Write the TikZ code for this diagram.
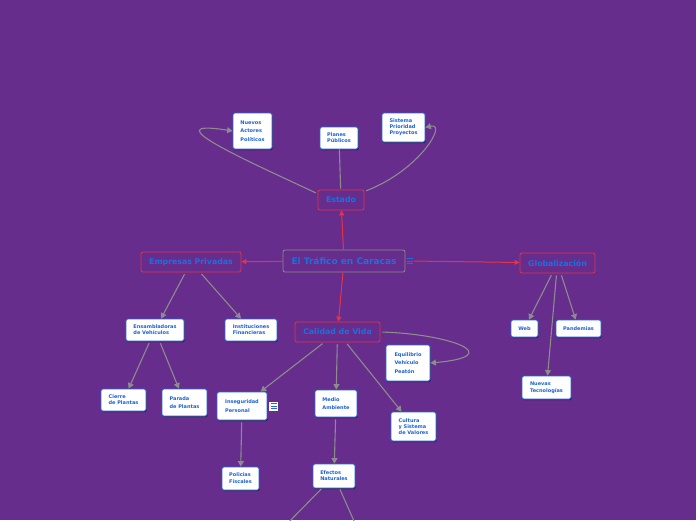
\documentclass[tikz,border=0pt]{standalone}
\usepackage{fontspec}
\setmainfont{DejaVu Sans}
\usetikzlibrary{arrows.meta,shadows}
\definecolor{bg}{HTML}{662D8C}
\definecolor{txt}{HTML}{1F6FE0}
\definecolor{leaftxt}{HTML}{1A62D6}
\definecolor{redb}{HTML}{E3344A}
\definecolor{grayl}{HTML}{8C8C8C}
\definecolor{bluebord}{HTML}{2468DA}
\begin{document}
\begin{tikzpicture}[x=1pt,y=-1pt,
 main/.style={draw=redb, line width=0.8pt, rounded corners=2pt, fill=bg, text=txt,
   font=\bfseries\fontsize{7.8}{9}\selectfont, inner sep=0pt},
 leaf/.style={draw=bluebord, line width=0.8pt, rounded corners=1.5pt, fill=white, text=leaftxt,
   font=\bfseries\fontsize{5}{6}\selectfont, inner sep=0pt, align=left,
   drop shadow={shadow xshift=0.7pt, shadow yshift=-1.2pt, opacity=0.55, fill=black}},
 loose/.style={font=\bfseries\fontsize{5}{8.7}\selectfont},
 redline/.style={draw=redb, line width=1pt, -{Triangle[length=5pt,width=5pt]}},
 grayline/.style={draw=grayl, line width=1.1pt, -{Triangle[length=5.5pt,width=6pt]}, shorten <=2pt},
 plainline/.style={draw=grayl, line width=1.1pt, shorten <=1pt}
]
\useasboundingbox[fill=bg] (0,0) rectangle (696,520);

% main nodes
\node[main, draw=grayl, font=\bfseries\fontsize{9}{10}\selectfont, minimum width=122pt, minimum height=22pt] (c) at (344,261) {El Tráfico en Caracas};
\node[main, minimum width=46pt, minimum height=20pt] (e) at (341,200) {Estado};
\node[main, minimum width=100pt, minimum height=20pt] (ep) at (191,262) {Empresas Privadas};
\node[main, minimum width=75pt, minimum height=20pt] (g) at (557.5,263) {Globalización};
\node[main, minimum width=85pt, minimum height=20pt] (cv) at (337.5,332) {Calidad de Vida};

% icon next to central
\node[inner sep=0pt, minimum width=8pt, minimum height=7pt] (ic) at (410,261) {};
\foreach \yy in {258.5,261,263.5}{\draw[txt, line width=0.9pt] (407,\yy) -- (413,\yy);}

% leaves
\node[leaf, loose, minimum width=39pt, minimum height=36pt] (nap) at (252.5,131) {Nuevos\\Actores\\Políticos};
\node[leaf, minimum width=38pt, minimum height=22pt] (pp) at (339,138) {Planes\\Públicos};
\node[leaf, minimum width=43pt, minimum height=29pt] (spp) at (403.5,127.5) {Sistema\\Prioridad\\Proyectos};
\node[leaf, minimum width=58pt, minimum height=22pt] (ens) at (155,330) {Ensambladoras\\de Vehículos};
\node[leaf, minimum width=52pt, minimum height=22pt] (inf) at (251,330) {Instituciones\\Financieras};
\node[leaf, minimum width=45pt, minimum height=22pt] (cp) at (123.5,400) {Cierre\\de Plantas};
\node[leaf, loose, minimum width=45pt, minimum height=27pt] (pdp) at (184.5,402.5) {Parada\\de Plantas};
\node[leaf, loose, minimum width=50pt, minimum height=28pt] (ip) at (242,406) {Inseguridad\\Personal};
\node[leaf, loose, minimum width=42pt, minimum height=27pt] (ma) at (336,403.5) {Medio\\Ambiente};
\node[leaf, loose, minimum width=44pt, minimum height=36pt] (evp) at (408,363) {Equilibrio\\Vehículo\\Peatón};
\node[leaf, minimum width=45pt, minimum height=29pt] (csv) at (413.5,426.5) {Cultura\\y Sistema\\de Valores};
\node[leaf, font=\bfseries\fontsize{5}{7}\selectfont, minimum width=37pt, minimum height=23pt] (pf) at (240.5,478.5) {Policías\\Fiscales};
\node[leaf, minimum width=42pt, minimum height=24pt] (efn) at (334,476) {Efectos\\Naturales};
\node[leaf, minimum width=27pt, minimum height=17pt] (web) at (524.5,328.5) {Web};
\node[leaf, minimum width=45pt, minimum height=17pt] (pan) at (578.5,328.5) {Pandemias};
\node[leaf, font=\bfseries\fontsize{5}{7}\selectfont, minimum width=49pt, minimum height=23pt] (nt) at (546.5,387.5) {Nuevas\\Tecnologías};

% icon next to Inseguridad
\node[fill=white, inner sep=0pt, minimum width=9pt, minimum height=9pt] (ic2) at (273.5,406) {};
\foreach \yy in {403.3,406,408.7}{\draw[bluebord, line width=0.9pt] (270.5,\yy) -- (276.5,\yy);}

% off-page targets
\coordinate (o1) at (281,530);
\coordinate (o2) at (358,530);

% red connectors
\draw[redline] (c) -- (e);
\draw[redline] (c) -- (ep);
\draw[redline] (ic) -- (g);
\draw[redline] (c) -- (cv);

% gray connectors
\draw[grayline] (e.165) .. controls (250,162) and (150,118) .. (nap.west);
\draw[plainline] (e) -- (pp);
\draw[grayline] (e.20) .. controls (420,170) and (448,122) .. (spp.east);
\draw[grayline] (ep) -- (ens);
\draw[grayline] (ep) -- (inf);
\draw[grayline] (ens) -- (cp);
\draw[grayline] (ens) -- (pdp);
\draw[grayline] (cv) -- (ip);
\draw[grayline] (cv) -- (ma);
\draw[grayline] (cv) -- (csv);
\draw[grayline] (cv.east) .. controls (450,334) and (508,356) .. (evp.east);
\draw[grayline] (ip) -- (pf);
\draw[grayline] (ma) -- (efn);
\draw[plainline] (efn) -- (o1);
\draw[plainline] (efn) -- (o2);
\draw[grayline] (g) -- (web);
\draw[grayline] (g) -- (pan);
\draw[grayline] (g) -- (nt);
\end{tikzpicture}
\end{document}
